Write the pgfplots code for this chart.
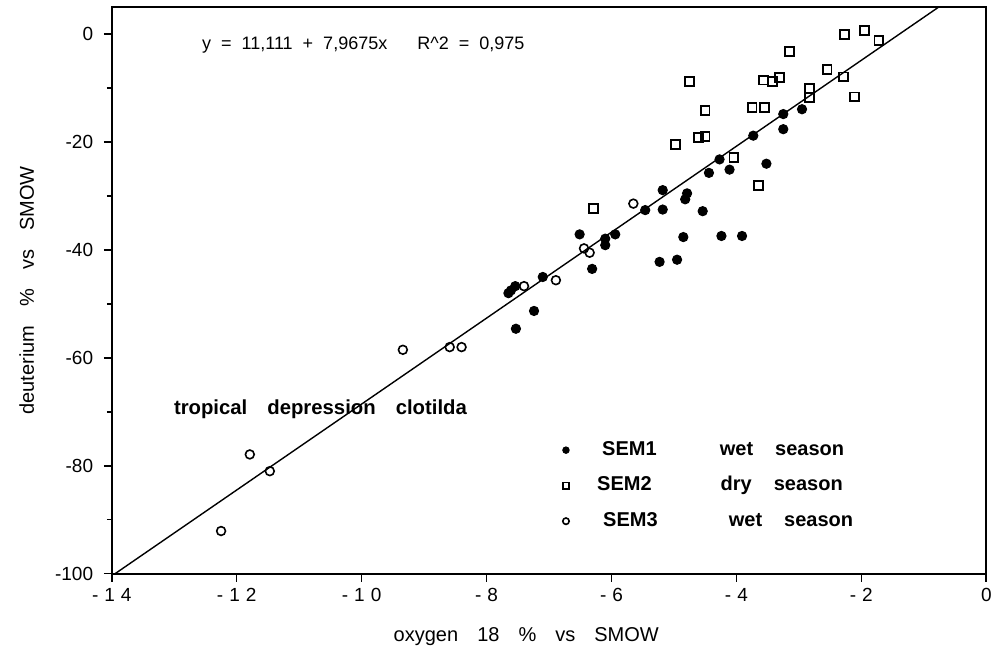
\documentclass[border=0pt]{standalone}
\usepackage{pgfplots}
\pgfplotsset{compat=1.18}
\usepackage{fontspec}
\setmainfont{Liberation Sans}
\newcommand{\tsp}{\hspace{3pt}}
\newcommand{\wsp}{\hspace{9.5pt}}
\begin{document}
\begin{tikzpicture}
\begin{axis}[
  at={(0,0)}, anchor=south west,
  width=437pt, height=283pt, scale only axis,
  xmin=-14, xmax=0, ymin=-100, ymax=5,
  xtick={-14,-12,-10,-8,-6,-4,-2,0},
  xticklabels={-\tsp1\tsp4,-\tsp1\tsp2,-\tsp1\tsp0,-\tsp8,-\tsp6,-\tsp4,-\tsp2,0},
  ytick={-100,-80,-60,-40,-20,0},
  yticklabels={-100,-80,-60,-40,-20,0},
  minor ytick={-90,-70,-50,-30,-10},
  tick pos=left,
  tick align=outside, major tick length=4pt, minor tick length=2.5pt,
  axis line style={line width=1pt},
  every tick/.style={line width=0.8pt, black},
  /pgf/number format/assume math mode=true,
  ticklabel style={font=\fontsize{9.5}{11}\selectfont},
  yticklabel style={xshift=-1.8pt},
  xlabel={oxygen\wsp18\wsp\%\wsp vs\wsp SMOW},
  ylabel={deuterium\wsp\%\wsp vs\wsp SMOW},
  label style={font=\fontsize{10}{12}\selectfont},
  xlabel style={at={(axis description cs:0.474,-0.1113)}, anchor=center},
  ylabel style={at={(axis description cs:-0.0973,0.5)}, anchor=center},
  legend style={at={(axis cs:-6.78,-75.4)}, anchor=north west, draw=none, fill=none,
    inner sep=0pt, outer sep=0pt, row sep=8.55pt, column sep=16.5pt,
    font=\bfseries\fontsize{10}{12}\selectfont,
    nodes={inner sep=0pt, text height=7.2pt, text depth=2pt}},
  legend cell align=left,
  legend image post style={mark size=1.6pt},
]
\addplot[only marks, mark=*, mark size=2.3pt, mark options={fill=black, draw=black, line width=0.5pt}] coordinates {
(-4.27,-23.2) (-4.11,-25.1) (-4.44,-25.7) (-5.18,-28.9) (-4.79,-29.5) (-4.82,-30.6)
(-5.46,-32.6) (-5.18,-32.5) (-4.54,-32.8) (-2.95,-13.9) (-3.25,-14.8) (-3.25,-17.6)
(-3.73,-18.8) (-3.52,-24.0) (-6.51,-37.1) (-6.10,-37.9) (-5.94,-37.1) (-6.10,-39.1)
(-6.31,-43.5) (-5.23,-42.2) (-4.95,-41.8) (-4.85,-37.6) (-4.24,-37.4) (-3.91,-37.4)
(-7.10,-45.0) (-7.54,-46.7) (-7.65,-48.0) (-7.61,-47.5) (-7.24,-51.3) (-7.53,-54.6)
};
\addplot[only marks, mark=square, mark size=2.2pt, mark options={line width=0.9pt}] coordinates {
(-4.75,-8.8) (-4.50,-14.1) (-4.61,-19.1) (-4.50,-18.9) (-4.98,-20.4) (-4.04,-22.8)
(-6.29,-32.3) (-2.27,-0.1) (-1.95,0.7) (-1.72,-1.2) (-3.15,-3.2) (-2.55,-6.5)
(-2.29,-7.9) (-3.57,-8.5) (-3.42,-8.8) (-3.31,-8.0) (-2.83,-10.0) (-2.83,-11.8)
(-2.11,-11.6) (-3.75,-13.6) (-3.55,-13.6) (-3.65,-28.0)
};
\addplot[only marks, mark=o, mark size=2.2pt, mark options={line width=0.8pt}] coordinates {
(-5.65,-31.4) (-6.44,-39.7) (-6.35,-40.5) (-6.89,-45.6) (-7.40,-46.7) (-9.34,-58.5)
(-8.59,-58.0) (-8.40,-58.0) (-11.79,-77.9) (-11.47,-81.0) (-12.25,-92.1)
};
\addplot[line width=0.7pt, forget plot] coordinates {(-14,-100.434) (0,11.111)};
\legend{\makebox[58.8pt][l]{SEM1}wet\hspace{11pt}season,\hspace{-2.5pt}\makebox[61.7pt][l]{SEM2}dry\hspace{11pt}season,\hspace{0.5pt}\makebox[62.8pt][l]{SEM3}wet\hspace{11pt}season}
\node[anchor=west, inner sep=0pt, font=\fontsize{9}{10}\selectfont] at (axis cs:-12.56,-2.0) {y\hspace{5pt}=\hspace{5pt}11,111\hspace{5pt}+\hspace{5pt}7,9675x\hspace{15pt}R\textasciicircum 2\hspace{5pt}=\hspace{5pt}0,975};
\node[anchor=base west, inner sep=0pt, font=\bfseries\fontsize{10.15}{12}\selectfont] at (axis cs:-13.01,-70.5) {tropical\hspace{10pt}depression\hspace{10pt}clotilda};
\end{axis}
\pgfresetboundingbox
\path (-55.85pt,-36pt) rectangle (442.85pt,286.65pt);
\end{tikzpicture}
\end{document}
